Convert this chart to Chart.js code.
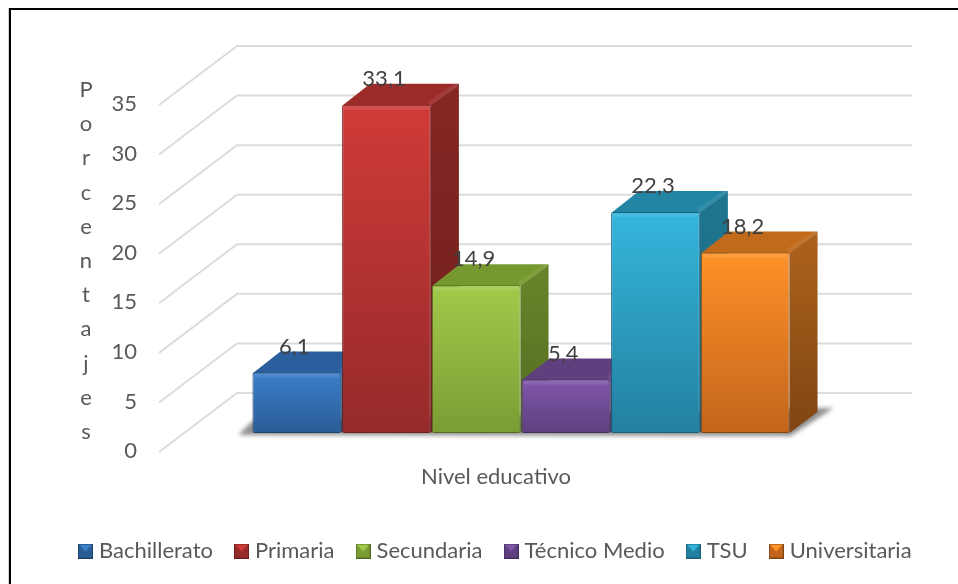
<!DOCTYPE html>
<html>
<head>
<meta charset="utf-8">
<style>
  html, body { margin: 0; padding: 0; background: #fff; }
  canvas { display: block; }
</style>
<script src="https://cdn.jsdelivr.net/npm/chart.js@4"></script>
</head>
<body>
<canvas id="chart" width="958" height="584"></canvas>
<script>
const axisLabel = ['Nivel educativo'];
const categories = ['Bachillerato', 'Primaria', 'Secundaria', 'Técnico Medio', 'TSU', 'Universitaria'];
const values = [6.1, 33.1, 14.9, 5.4, 22.3, 18.2];
const yTitle = 'Porcentajes';

const frontTop = ['#3b7ecb', '#d03b38', '#a2ca4a', '#8056aa', '#34b6dc', '#ff9229'];
const frontBottom = ['#2a5c95', '#952a2a', '#7a9c34', '#5e3f80', '#23809f', '#c2641b'];
const topFace = ['#2a5e9c', '#9c2c2a', '#76992f', '#5f3f7e', '#2285a3', '#c06a1a'];
const sideTop = ['#265587', '#842624', '#688229', '#553873', '#1f7590', '#a9601b'];
const sideBottom = ['#1e4368', '#6e1f1e', '#526b22', '#452e5e', '#19607a', '#7f4512'];

const font = 'Lato';
const fontSize = 22;
const depthX = 28, depthY = -21;

function legendIcon(i) {
    const c = document.createElement('canvas');
    c.width = 15; c.height = 15;
    const g = c.getContext('2d');
    g.fillStyle = frontBottom[i];
    g.fillRect(0, 0, 15, 15);
    g.fillStyle = frontTop[i];
    g.beginPath(); g.moveTo(1, 1); g.lineTo(14, 1); g.lineTo(7.5, 8); g.fill();
    g.strokeStyle = sideBottom[i];
    g.strokeRect(0.5, 0.5, 14, 14);
    return c;
}
const icons = categories.map((c, i) => legendIcon(i));

function poly(ctx, pts, fill) {
    ctx.beginPath();
    pts.forEach((p, i) => i ? ctx.lineTo(p[0], p[1]) : ctx.moveTo(p[0], p[1]));
    ctx.closePath();
    ctx.fillStyle = fill;
    ctx.fill();
}

const backdrop = {
    id: 'backdrop',
    beforeDraw(chart) {
        const ctx = chart.ctx, y = chart.scales.y;
        ctx.save();
        // frame, only top and left
        ctx.fillStyle = '#d0d0d0';
        ctx.fillRect(8, 8, 1, 576);
        ctx.fillStyle = '#000';
        ctx.fillRect(9, 8, 949, 2);
        ctx.fillRect(9, 8, 2, 576);
        // grid on the wall and the side wall
        ctx.strokeStyle = '#dcdcdc';
        ctx.lineWidth = 2;
        y.ticks.forEach(t => {
            const py = y.getPixelForValue(t.value);
            ctx.beginPath();
            ctx.moveTo(159, py + 19);
            ctx.lineTo(237, py - 40);
            ctx.lineTo(912, py - 40);
            ctx.stroke();
        });
        // stacked axis title
        ctx.fillStyle = '#595959';
        ctx.font = fontSize + 'px "' + font + '"';
        ctx.textAlign = 'center';
        ctx.textBaseline = 'middle';
        yTitle.split('').forEach((ch, i) => ctx.fillText(ch, 86, 90 + i * 34.2));
        ctx.restore();
    }
};

const bars3d = {
    id: 'bars3d',
    beforeDatasetsDraw(chart) {
        const ctx = chart.ctx;
        const els = categories.map((c, i) => chart.getDatasetMeta(i).data[0]);
        const first = els[0], last = els[els.length - 1];
        const l = first.x - first.width / 2, r = last.x + last.width / 2, b = first.base;
        ctx.save();
        ctx.filter = 'blur(2px)';
        poly(ctx, [[l - 14, b + 2], [r + 1, b + 3], [r + 44, b - 25], [r + 28, b - 25], [l, b - 12]], '#8f8f8f');
        ctx.restore();
        ctx.save();
        els.forEach((el, i) => {
            const right = el.x + el.width / 2, left = el.x - el.width / 2;
            const g = ctx.createLinearGradient(0, el.y, 0, el.base);
            g.addColorStop(0, sideTop[i]);
            g.addColorStop(1, sideBottom[i]);
            poly(ctx, [[right, el.y], [right + depthX, el.y + depthY], [right + depthX, el.base + depthY], [right, el.base]], g);
            // one pixel lower than the front edge, or the side behind bleeds through
            poly(ctx, [[left, el.y + 1], [left + depthX, el.y + depthY], [right + depthX, el.y + depthY], [right, el.y + 1]], topFace[i]);
            // bevel on the top's right edge
            ctx.strokeStyle = 'rgba(255,255,255,0.07)';
            ctx.lineWidth = 5;
            ctx.beginPath();
            ctx.moveTo(right - 2, el.y - 1);
            ctx.lineTo(right + depthX - 2, el.y + depthY + 1);
            ctx.stroke();
        });
        ctx.restore();
    },
    afterDatasetsDraw(chart) {
        const ctx = chart.ctx;
        ctx.save();
        ctx.font = fontSize + 'px "' + font + '"';
        ctx.textAlign = 'center';
        ctx.textBaseline = 'middle';
        values.forEach((v, i) => {
            const el = chart.getDatasetMeta(i).data[0];
            ctx.fillStyle = 'rgba(255,255,255,0.1)';
            ctx.fillRect(el.x - el.width / 2 + 2, el.y + 1, el.width - 4, 4);
            ctx.fillStyle = '#404040';
            ctx.fillText(String(v).replace('.', ','), el.x - 2.5, el.y - 26);
        });
        ctx.restore();
    }
};

const frontGradient = i => context => {
    const chart = context.chart;
    if (!chart.chartArea) return frontTop[i];
    const y = chart.scales.y;
    const g = chart.ctx.createLinearGradient(0, y.getPixelForValue(values[i]), 0, y.getPixelForValue(0));
    g.addColorStop(0, frontTop[i]);
    g.addColorStop(1, frontBottom[i]);
    return g;
};

new Chart(document.getElementById('chart').getContext('2d'), {
    type: 'bar',
    data: {
        labels: axisLabel,
        datasets: categories.map((name, i) => ({
            label: name,
            data: [values[i]],
            backgroundColor: frontGradient(i),
            borderColor: sideBottom[i],
            borderWidth: 1,
            borderSkipped: false,
            borderRadius: 2,
            barPercentage: 0.99,
            categoryPercentage: 1
        }))
    },
    options: {
        responsive: false,
        animation: false,
        layout: { padding: { left: 57, top: 86, right: 0, bottom: 12 } },
        plugins: {
            title: { display: false },
            tooltip: { enabled: false },
            legend: {
                position: 'bottom',
                align: 'start',
                labels: {
                    usePointStyle: true,
                    pointStyleWidth: 5,
                    padding: 26,
                    color: '#595959',
                    font: { family: font, size: fontSize },
                    generateLabels: () => categories.map((name, i) => ({
                        text: name,
                        pointStyle: icons[i],
                        fontColor: '#595959',
                        datasetIndex: i,
                        lineWidth: 0
                    }))
                }
            }
        },
        scales: {
            x: {
                grid: { display: false },
                border: { display: false },
                afterFit(s) { s.height = 81; },
                ticks: {
                    color: '#595959',
                    font: { family: font, size: fontSize },
                    padding: 23,
                    labelOffset: -25,
                    maxRotation: 0
                }
            },
            y: {
                min: 0,
                max: 35,
                grid: { display: false, drawTicks: false },
                border: { display: false },
                // the big tick padding would also eat room above and below the axis
                afterFit(s) { s.width = 195; s.paddingTop = 0; s.paddingBottom = 0; },
                ticks: {
                    stepSize: 5,
                    color: '#595959',
                    font: { family: font, size: fontSize },
                    padding: 115,
                    labelOffset: 18
                }
            },
            // only reserves the room right of the bars, the legend runs under it
            spare: {
                position: 'right',
                grid: { display: false, drawTicks: false },
                border: { display: false },
                ticks: { display: false },
                afterFit(s) { s.width = 168; }
            }
        }
    },
    plugins: [backdrop, bars3d]
});
</script>
</body>
</html>
